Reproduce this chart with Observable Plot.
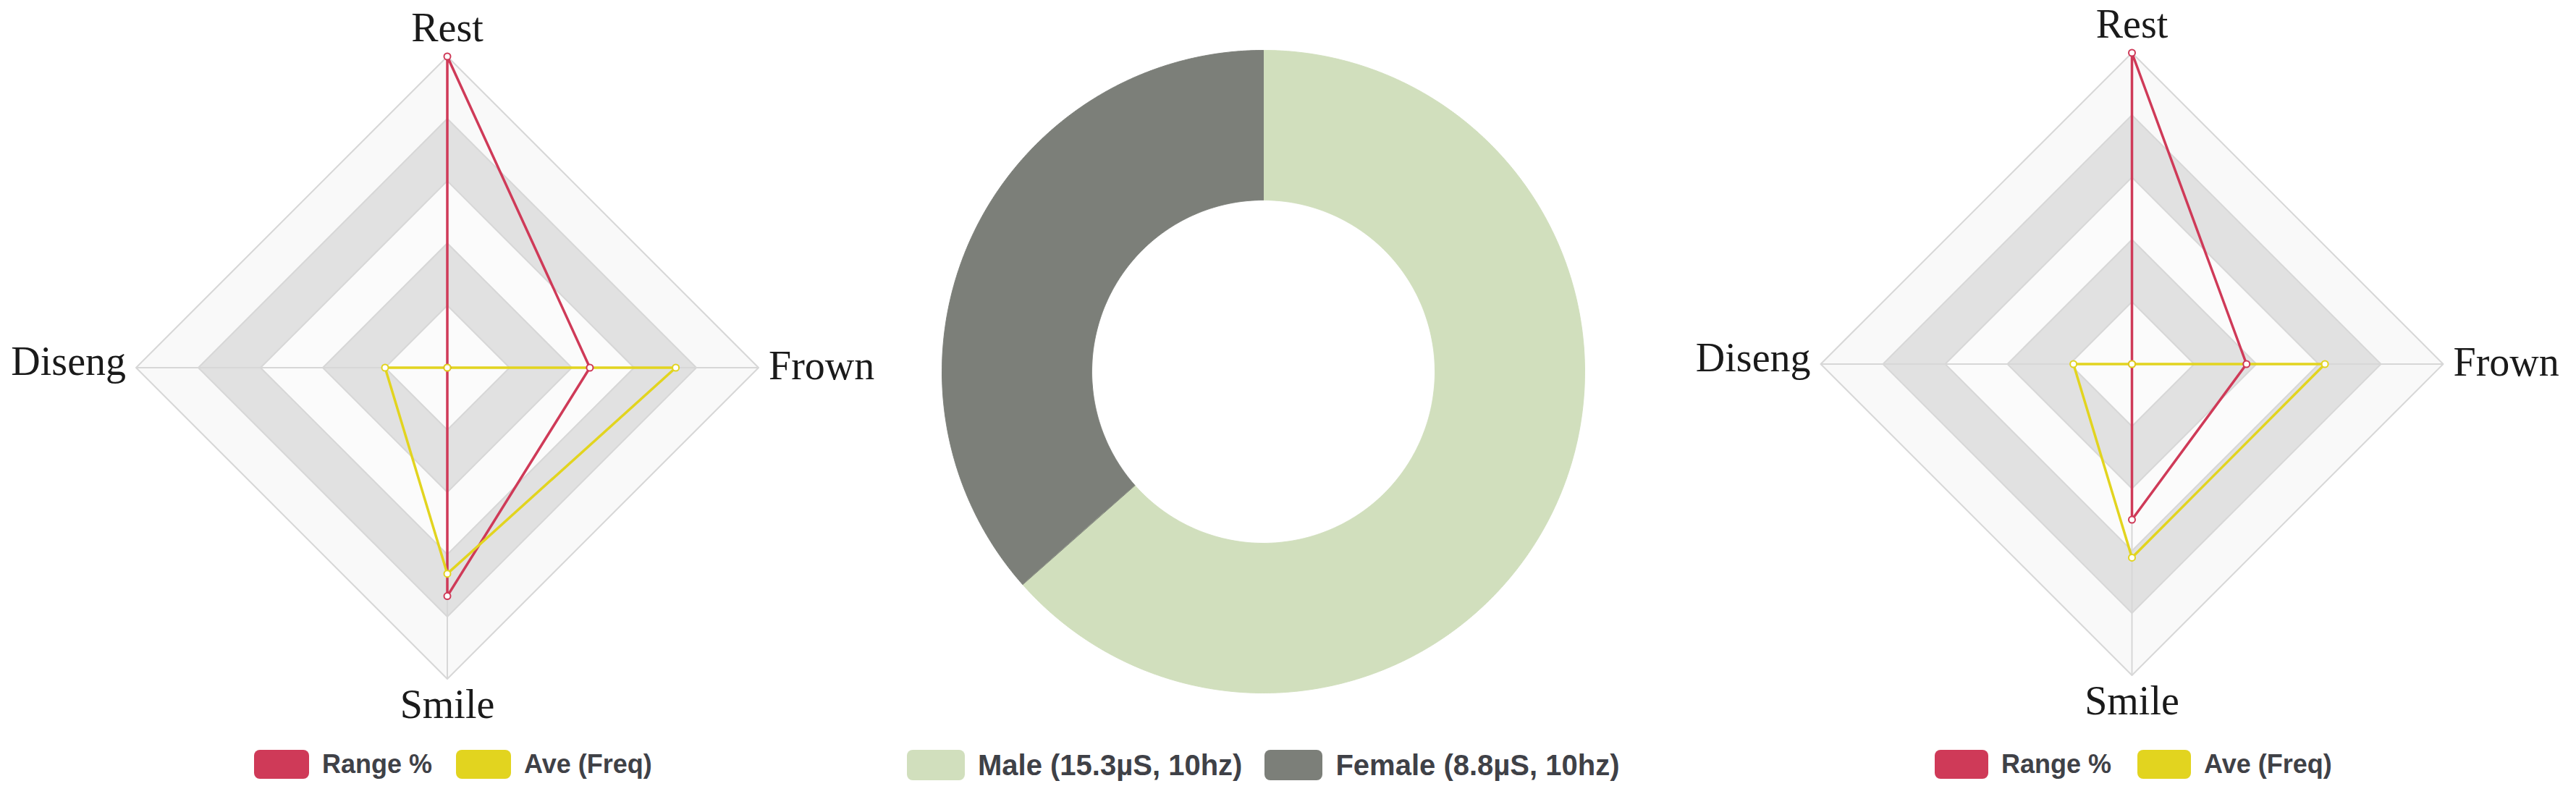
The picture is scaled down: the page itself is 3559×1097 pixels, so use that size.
<!DOCTYPE html>
<html>
<head>
<meta charset="utf-8">
<script src="https://cdn.jsdelivr.net/npm/d3@7"></script>
<script src="https://cdn.jsdelivr.net/npm/@observablehq/plot@0.6"></script>
<style>
html, body { margin: 0; padding: 0; background: #fff; }
#page { position: relative; width: 3559px; height: 1097px; overflow: hidden; background: #fff; }
.panel { position: absolute; top: 0; }
.legend { position: absolute; display: flex; align-items: center; font-family: "Liberation Sans", Arial, sans-serif; font-weight: bold; color: #3f4147; white-space: nowrap; }
.sw { display: inline-block; border-radius: 8px; flex: none; }
</style>
</head>
<body>
<div id="page"></div>
<script>
// ---- data ----
const axes = ["Rest", "Frown", "Smile", "Diseng"];
const seriesNames = ["Range %", "Ave (Freq)"];
const seriesColors = ["#cf3a58", "#e2d41f"];
const leftRange = [5, 2.29, 3.67, 0];
const leftAve = [0, 3.67, 3.31, 1.0];
const rightRange = [5, 1.84, 2.5, 0];
const rightAve = [0, 3.1, 3.11, 0.94];
const levels = [5, 4, 3, 2, 1];
const levelFills = ["#f9f9f9", "#e1e1e1", "#fbfbfb", "#e1e1e1", "#fbfbfb"];
const genders = ["Male (15.3µS, 10hz)", "Female (8.8µS, 10hz)"];
const genderValues = [15.3, 8.8];
const genderColors = ["#d1dfbd", "#7c7f79"];

const page = document.getElementById("page");

function radarPlot(seriesVals, cx, cy, W, H) {
  const R = 430;
  const pos = (i, r) => [r * Math.sin(i * Math.PI / 2), r * Math.cos(i * Math.PI / 2)];
  const ringMarks = levels.map((lv, k) =>
    Plot.line(axes.map((a, i) => { const [x, y] = pos(i, lv); return {x, y}; }),
      {x: "x", y: "y", curve: "linear-closed", fill: levelFills[k], stroke: "#d7d7d7", strokeWidth: 2}));
  const spokes = axes.map((a, i) => { const [x2, y2] = pos(i, 5); return {x1: 0, y1: 0, x2, y2}; });
  const seriesRows = seriesVals.map((vals, s) => axes.map((a, i) => {
    const [x, y] = pos(i, vals[i]);
    return {series: seriesNames[s], axis: a, value: vals[i], x, y};
  }));
  const labelData = axes.map((a, i) => { const [x, y] = pos(i, 5); return {a, x, y}; });
  const lbl = (name, opts) => Plot.text(labelData.filter(d => d.a === name), {
    x: "x", y: "y", text: "a", fontSize: 56, fontFamily: "Liberation Serif, serif",
    fill: "#1a1a1a", lineAnchor: "bottom", ...opts
  });
  return Plot.plot({
    width: W, height: H, margin: 0,
    style: {background: "transparent", overflow: "visible"},
    x: {domain: [-5, 5], range: [cx - R, cx + R], axis: null},
    y: {domain: [-5, 5], range: [cy + R, cy - R], axis: null},
    marks: [
      ...ringMarks,
      Plot.link(spokes, {x1: "x1", y1: "y1", x2: "x2", y2: "y2", stroke: "#d7d7d7", strokeWidth: 2}),
      ...seriesRows.map((rows, s) => Plot.line(rows, {x: "x", y: "y", curve: "linear-closed", stroke: seriesColors[s], strokeWidth: 3.5})),
      ...seriesRows.map((rows, s) => Plot.dot(rows, {x: "x", y: "y", r: 4.5, fill: "#fff", stroke: seriesColors[s], strokeWidth: 2})),
      lbl("Rest", {textAnchor: "middle", dy: -21}),
      lbl("Frown", {textAnchor: "start", dx: 14, dy: 16}),
      lbl("Smile", {textAnchor: "middle", dy: 54}),
      lbl("Diseng", {textAnchor: "end", dx: -14, dy: 10})
    ]
  });
}

function donutPlot(cx, cy, W, H) {
  const Ro = 444, inner = 237 / 444;
  const arcs = d3.pie().sort(null).value(d => d)(genderValues);
  const sector = (a0, a1) => {
    const n = Math.max(2, Math.ceil((a1 - a0) / (Math.PI / 720)));
    const pts = [];
    for (let k = 0; k <= n; k++) { const a = a0 + (a1 - a0) * k / n; pts.push({x: Math.sin(a), y: Math.cos(a)}); }
    for (let k = n; k >= 0; k--) { const a = a0 + (a1 - a0) * k / n; pts.push({x: inner * Math.sin(a), y: inner * Math.cos(a)}); }
    return pts;
  };
  return Plot.plot({
    width: W, height: H, margin: 0,
    style: {background: "transparent", overflow: "visible"},
    x: {domain: [-1, 1], range: [cx - Ro, cx + Ro], axis: null},
    y: {domain: [-1, 1], range: [cy + Ro, cy - Ro], axis: null},
    marks: arcs.map((a, i) => Plot.line(sector(a.startAngle, a.endAngle), {
      x: "x", y: "y", curve: "linear-closed", fill: genderColors[i], stroke: genderColors[i], strokeWidth: 1
    }))
  });
}

function addPanel(node, left, width) {
  const div = document.createElement("div");
  div.className = "panel";
  div.style.left = left + "px";
  div.style.width = width + "px";
  div.appendChild(node);
  page.appendChild(div);
}

function addLegend(names, colors, left, top, fontSize, swW, swH, gapText, gapItem) {
  const lg = document.createElement("div");
  lg.className = "legend";
  lg.style.left = left + "px";
  lg.style.top = top + "px";
  lg.style.height = swH + "px";
  lg.style.fontSize = fontSize + "px";
  names.forEach((n, i) => {
    const sw = document.createElement("span");
    sw.className = "sw";
    sw.style.width = swW + "px";
    sw.style.height = swH + "px";
    sw.style.background = colors[i];
    sw.style.marginRight = gapText + "px";
    if (i > 0) sw.style.marginLeft = gapItem + "px";
    const tx = document.createElement("span");
    tx.textContent = n;
    lg.appendChild(sw);
    lg.appendChild(tx);
  });
  page.appendChild(lg);
}

addPanel(radarPlot([leftRange, leftAve], 617.5, 507.5, 1240, 1030), 0, 1240);
addPanel(donutPlot(505, 513, 1010, 1030), 1240, 1010);
addPanel(radarPlot([rightRange, rightAve], 618, 502.5, 1232, 1030), 2327, 1232);

addLegend(seriesNames, seriesColors, 351, 1036, 36, 76, 40, 18, 33);
addLegend(genders, genderColors, 1253, 1036, 40, 80, 42, 18, 31);
addLegend(seriesNames, seriesColors, 2673, 1036, 36, 74, 40, 18, 36);
</script>
</body>
</html>
